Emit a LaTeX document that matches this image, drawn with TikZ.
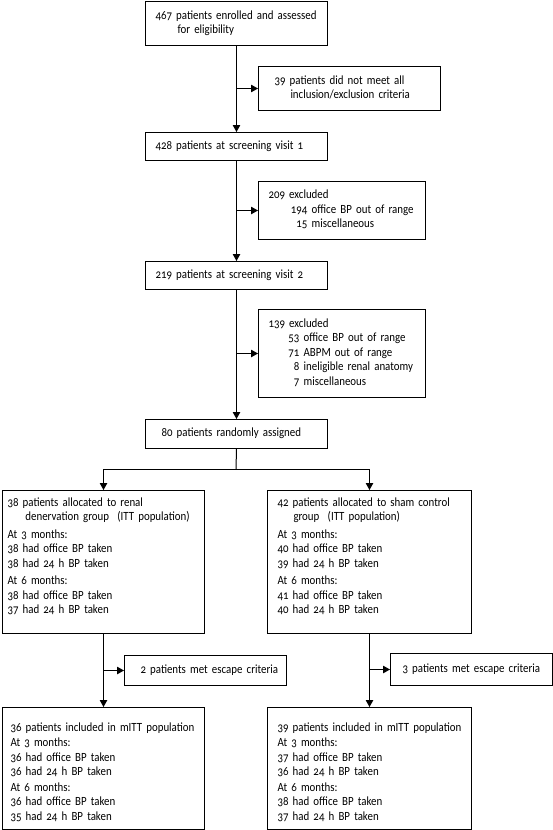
\documentclass[tikz,border=0pt]{standalone}
\usepackage{fontspec}
\setmainfont[Numbers=OldStyle,FakeStretch=0.87]{Carlito}
\usetikzlibrary{arrows.meta}
\newcommand{\tbl}[1]{\begin{tabular}{@{}l@{}}#1\end{tabular}}
\begin{document}
\begin{tikzpicture}[x=1pt,y=-1pt,
  box/.style={draw=black, line width=1pt, anchor=north west, align=left,
    inner ysep=0pt, font=\fontsize{12.5}{14.5}\selectfont},
  conn/.style={line width=1pt},
  arr/.style={line width=1pt, -{Triangle[length=7pt,width=7.5pt]}}]
\useasboundingbox (0,0) rectangle (553,830);
% main column
\node[box, minimum width=182pt, minimum height=44pt, inner xsep=10pt, text width=162pt] (b1) at (145,1)
  {\tbl{467 patients enrolled and assessed\\\hspace*{22pt}for eligibility}};
\node[box, minimum width=182pt, minimum height=28pt, inner xsep=10pt, text width=162pt] (b2) at (145,132)
  {\tbl{428 patients at screening visit 1}};
\node[box, minimum width=182pt, minimum height=28pt, inner xsep=10pt, text width=162pt] (b3) at (145,261)
  {\tbl{219 patients at screening visit 2}};
\node[box, minimum width=182pt, minimum height=29pt, inner xsep=16pt, text width=150pt] (b4) at (145,419)
  {\tbl{80 patients randomly assigned}};
% exclusion boxes
\node[box, minimum width=182pt, minimum height=44pt, inner xsep=16pt, text width=150pt] (e1) at (258,66)
  {\tbl{39 patients did not meet all\\\hspace*{16pt}inclusion/exclusion criteria}};
\node[box, minimum width=167pt, minimum height=58pt, inner xsep=10pt, text width=147pt] (e2) at (258,181)
  {\tbl{209 excluded\\
   \hspace*{19pt}\makebox[20pt][r]{194} office BP out of range\\
   \hspace*{19pt}\makebox[20pt][r]{15} miscellaneous}};
\node[box, minimum width=167pt, minimum height=88pt, inner xsep=10pt, text width=147pt] (e3) at (258,309)
  {\tbl{139 excluded\\
   \hspace*{20pt}\makebox[11pt][r]{53} office BP out of range\\
   \hspace*{20pt}\makebox[11pt][r]{71} ABPM out of range\\
   \hspace*{20pt}\makebox[11pt][r]{8} ineligible renal anatomy\\
   \hspace*{20pt}\makebox[11pt][r]{7} miscellaneous}};
% allocation boxes
\node[box, minimum width=202pt, minimum height=143pt, inner xsep=5pt, text width=192pt] (L) at (2,490)
  {\tbl{38 patients allocated to renal\\\hspace*{18pt}denervation group\ \ (ITT population)\\[3pt]
   At 3 months:\\38 had office BP taken\\38 had 24 h BP taken\\[3pt]
   At 6 months:\\38 had office BP taken\\37 had 24 h BP taken\\[10pt]}};
\node[box, minimum width=204pt, minimum height=143pt, inner xsep=10pt, text width=184pt] (R) at (267,490)
  {\tbl{42 patients allocated to sham control\\\hspace*{16pt}group\ \ (ITT population)\\[3pt]
   At 3 months:\\40 had office BP taken\\39 had 24 h BP taken\\[3pt]
   At 6 months:\\41 had office BP taken\\40 had 24 h BP taken\\[10pt]}};
% escape boxes
\node[box, minimum width=162pt, minimum height=30pt, inner xsep=16pt, text width=130pt] (LE) at (124,655)
  {\tbl{2 patients met escape criteria}};
\node[box, minimum width=162pt, minimum height=32pt, inner xsep=12pt, text width=138pt] (RE) at (390,653)
  {\tbl{3 patients met escape criteria}};
% mITT boxes
\node[box, minimum width=202pt, minimum height=122pt, inner xsep=8pt, text width=186pt] (LB) at (2,707)
  {\tbl{\rule{0pt}{19pt}36 patients included in mITT population\\[1pt]
   At 3 months:\\36 had office BP taken\\36 had 24 h BP taken\\[1pt]
   At 6 months:\\36 had office BP taken\\35 had 24 h BP taken}};
\node[box, minimum width=204pt, minimum height=122pt, inner xsep=10pt, text width=184pt] (RB) at (267,707)
  {\tbl{\rule{0pt}{19pt}39 patients included in mITT population\\[1pt]
   At 3 months:\\37 had office BP taken\\36 had 24 h BP taken\\[1pt]
   At 6 months:\\38 had office BP taken\\37 had 24 h BP taken}};
% connectors
\draw[arr] (b1.south) -- (b2.north);
\draw[arr] (b1.south |- e1.west) -- (e1.west);
\draw[arr] (b2.south) -- (b3.north);
\draw[arr] (b2.south |- e2.west) -- (e2.west);
\draw[arr] (b3.south) -- (b4.north);
\draw[arr] (b3.south |- e3.west) -- (e3.west);
\coordinate (sp) at (236,469);
\draw[conn] (b4.south) -- (sp);
\draw[arr] (sp) -| (L.north);
\draw[arr] (sp) -| (R.north);
\draw[arr] (L.south) -- (LB.north);
\draw[arr] (L.south |- LE.west) -- (LE.west);
\draw[arr] (R.south) -- (RB.north);
\draw[arr] (R.south |- RE.west) -- (RE.west);
\end{tikzpicture}
\end{document}
